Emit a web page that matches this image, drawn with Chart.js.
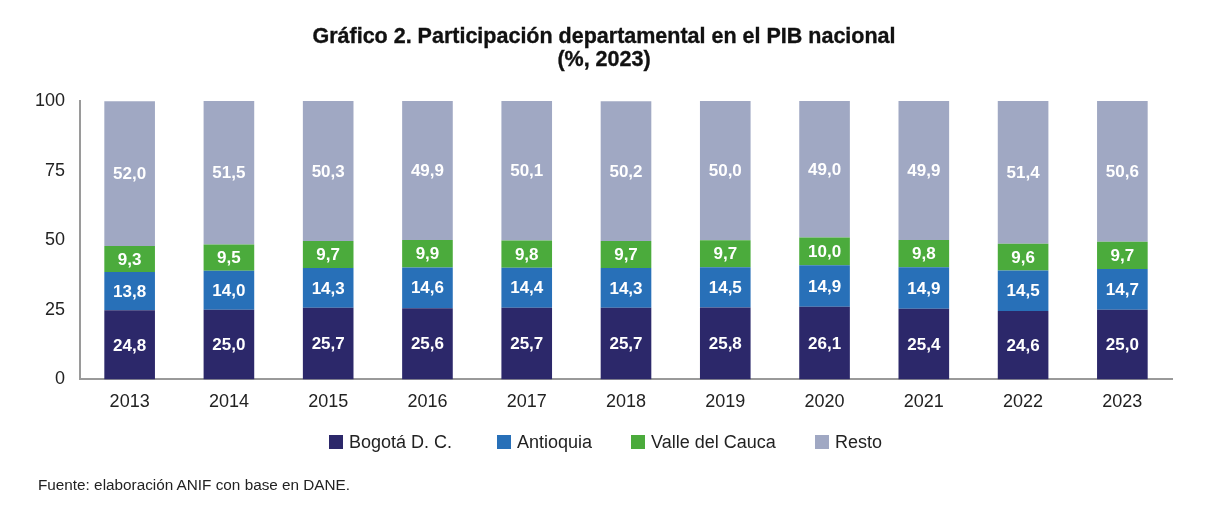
<!DOCTYPE html>
<html>
<head>
<meta charset="utf-8">
<script src="https://cdn.jsdelivr.net/npm/chart.js@4/dist/chart.umd.min.js"></script>
<style>
  html,body{margin:0;padding:0;background:#fff;}
  #wrap{position:relative;width:1218px;height:523px;overflow:hidden;}
  #c{position:absolute;left:0;top:0;}
  #title{position:absolute;left:304px;width:600px;top:25px;text-align:center;font-family:"Liberation Sans",Arial,sans-serif;font-weight:bold;font-size:21.5px;line-height:23px;color:#111;-webkit-text-stroke:0.35px #111;}
  #legend{position:absolute;left:0;top:431px;width:1218px;height:22px;font-family:"Liberation Sans",Arial,sans-serif;font-size:18px;color:#222;}
  .li{position:absolute;top:0;white-space:nowrap;line-height:22px;}
  .sw{display:inline-block;width:14px;height:14px;vertical-align:-1px;margin-right:6px;}
  #foot{position:absolute;left:38px;top:476px;font-family:"Liberation Sans",Arial,sans-serif;font-size:15.3px;color:#222;}
</style>
</head>
<body>
<div id="wrap">
  <canvas id="c" width="1218" height="523"></canvas>
  <div id="title">Gráfico 2. Participación departamental en el PIB nacional<br>(%, 2023)</div>
  <div id="legend"></div>
  <div id="foot">Fuente: elaboración ANIF con base en DANE.</div>
</div>
<script>
const categories = ["2013","2014","2015","2016","2017","2018","2019","2020","2021","2022","2023"];
const bogota    = [24.8,25.0,25.7,25.6,25.7,25.7,25.8,26.1,25.4,24.6,25.0];
const antioquia = [13.8,14.0,14.3,14.6,14.4,14.3,14.5,14.9,14.9,14.5,14.7];
const valle     = [9.3,9.5,9.7,9.9,9.8,9.7,9.7,10.0,9.8,9.6,9.7];
const resto     = [52.0,51.5,50.3,49.9,50.1,50.2,50.0,49.0,49.9,51.4,50.6];
const seriesNames = ["Bogotá D. C.","Antioquia","Valle del Cauca","Resto"];
const yTicks = [0,25,50,75,100];

const colors = ["#2c286a","#2870b8","#4bab3c","#a0a8c3"];
const FONT = '"Liberation Sans", Arial, sans-serif';

// HTML legend
const legendLeft = [329, 497, 631, 815];
const legendEl = document.getElementById('legend');
seriesNames.forEach((n, i) => {
  const d = document.createElement('div');
  d.className = 'li';
  d.style.left = legendLeft[i] + 'px';
  const s = document.createElement('span');
  s.className = 'sw';
  s.style.background = colors[i];
  d.appendChild(s);
  d.appendChild(document.createTextNode(n));
  legendEl.appendChild(d);
});

const labelPlugin = {
  id: 'segLabels',
  afterDatasetsDraw(chart) {
    const ctx = chart.ctx;
    ctx.save();
    ctx.font = 'bold 17px ' + FONT;
    ctx.fillStyle = '#ffffff';
    ctx.textAlign = 'center';
    ctx.textBaseline = 'middle';
    chart.data.datasets.forEach((ds, di) => {
      const meta = chart.getDatasetMeta(di);
      meta.data.forEach((bar, i) => {
        const v = ds.data[i];
        const p = bar.getProps(['x','y','base'], true);
        ctx.fillText(v.toFixed(1).replace('.', ','), p.x, (p.y + p.base) / 2 + 1);
      });
    });
    ctx.restore();
  }
};

const dataArrays = [bogota, antioquia, valle, resto];
new Chart(document.getElementById('c'), {
  type: 'bar',
  data: {
    labels: categories,
    datasets: dataArrays.map((d, i) => ({
      label: seriesNames[i],
      data: d,
      backgroundColor: colors[i],
      borderWidth: 0,
      categoryPercentage: 1.0,
      barPercentage: 0.51
    }))
  },
  options: {
    responsive: false,
    animation: false,
    layout: { padding: { left: 0, right: 46, top: 101, bottom: 98 } },
    plugins: {
      title: { display: false },
      legend: { display: false },
      tooltip: { enabled: false }
    },
    scales: {
      x: {
        stacked: true,
        grid: { display: false, drawTicks: false },
        border: { color: '#9a9a9a', width: 2 },
        ticks: { font: { family: FONT, size: 18 }, color: '#222', padding: 12 }
      },
      y: {
        stacked: true,
        min: 0, max: 100,
        afterBuildTicks(scale) { scale.ticks = yTicks.map(v => ({ value: v })); },
        afterFit(scale) { scale.width = 80; },
        grid: { display: false, drawTicks: false },
        border: { color: '#9a9a9a', width: 2 },
        ticks: { font: { family: FONT, size: 18 }, color: '#222', padding: 15 }
      }
    }
  },
  plugins: [labelPlugin]
});
</script>
</body>
</html>
